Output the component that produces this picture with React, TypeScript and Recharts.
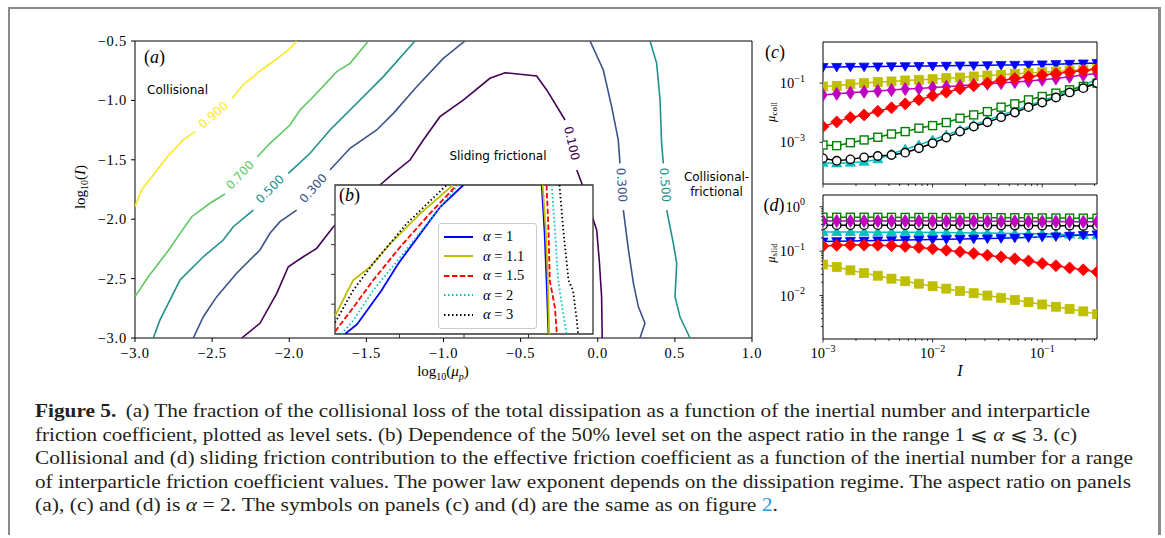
import React from 'react';
import {
  ScatterChart, Scatter, LineChart, Line, XAxis, YAxis,
  ReferenceArea, CartesianGrid, Legend,
} from 'recharts';

// ---- panel (a): level sets of the collisional fraction, [log10(mu_p), log10(I)]
const LEVEL_090_LOW = [[-3.0, -1.894], [-2.957, -1.754], [-2.79, -1.474], [-2.687, -1.333], [-2.611, -1.263]];
const LEVEL_090_HIGH = [[-2.369, -0.982], [-2.3, -0.87], [-2.18, -0.744], [-2.006, -0.576], [-1.952, -0.5]];
const LEVEL_070_LOW = [[-3.0, -2.652], [-2.914, -2.484], [-2.773, -2.245], [-2.708, -2.119], [-2.632, -1.979], [-2.514, -1.866], [-2.417, -1.788]];
const LEVEL_070_HIGH = [[-2.207, -1.474], [-2.125, -1.361], [-1.995, -1.207], [-1.93, -1.081], [-1.844, -0.969], [-1.692, -0.758], [-1.606, -0.688], [-1.552, -0.604], [-1.487, -0.5]];
const LEVEL_050_LOW = [[-2.881, -3.0], [-2.838, -2.848], [-2.708, -2.512], [-2.557, -2.316], [-2.428, -2.175], [-2.363, -2.063], [-2.233, -1.923]];
const LEVEL_050_HIGH = [[-2.006, -1.614], [-1.865, -1.445], [-1.736, -1.249], [-1.541, -0.997], [-1.39, -0.8], [-1.185, -0.5]];
const LEVEL_030_LOW = [[-2.622, -3.0], [-2.557, -2.821], [-2.47, -2.652], [-2.341, -2.455], [-2.19, -2.259], [-2.125, -2.119], [-2.06, -2.021], [-1.952, -1.923]];
const LEVEL_030_HIGH = [[-1.736, -1.586], [-1.606, -1.403], [-1.433, -1.249], [-1.325, -1.109], [-1.174, -0.885], [-1.001, -0.646], [-0.861, -0.5]];
const LEVEL_010_ARCH = [[-2.308, -3.0], [-2.19, -2.876], [-2.081, -2.624], [-2.006, -2.4], [-1.909, -2.316], [-1.822, -2.245], [-1.714, -2.063], [-1.55, -1.88], [-1.412, -1.712], [-1.325, -1.614], [-1.217, -1.502], [-1.131, -1.333], [-1.023, -1.137], [-0.872, -0.997], [-0.699, -0.814], [-0.601, -0.767], [-0.396, -0.795], [-0.331, -0.912], [-0.212, -1.165]];
const LEVEL_010_FALL = [[-0.136, -1.586], [-0.08, -1.78], [-0.03, -2.0], [-0.007, -2.09], [0.01, -2.35], [0.025, -2.652], [0.029, -3.0]];
const LEVEL_030R_TOP = [[-0.05, -0.5], [0.036, -0.744], [0.09, -1.053], [0.133, -1.333], [0.144, -1.53]];
const LEVEL_030R_BOT = [[0.166, -1.923], [0.199, -2.259], [0.231, -2.539], [0.263, -2.736], [0.306, -2.876], [0.274, -3.0]];
const LEVEL_050R_TOP = [[0.339, -0.5], [0.382, -0.688], [0.404, -0.997], [0.414, -1.361], [0.425, -1.53]];
const LEVEL_050R_BOT = [[0.447, -1.923], [0.49, -2.203], [0.512, -2.371], [0.501, -2.652], [0.533, -2.821], [0.598, -3.0]];

// viridis colours of the five levels
const LEVEL_COLOR: { [k: string]: string } = {
  '0.1': '#440154', '0.3': '#3b528b', '0.5': '#21918c', '0.7': '#5ec962', '0.9': '#fde725',
};

const CONTOURS = [
  { level: '0.9', points: LEVEL_090_LOW }, { level: '0.9', points: LEVEL_090_HIGH },
  { level: '0.7', points: LEVEL_070_LOW }, { level: '0.7', points: LEVEL_070_HIGH },
  { level: '0.5', points: LEVEL_050_LOW }, { level: '0.5', points: LEVEL_050_HIGH },
  { level: '0.3', points: LEVEL_030_LOW }, { level: '0.3', points: LEVEL_030_HIGH },
  { level: '0.1', points: LEVEL_010_ARCH }, { level: '0.1', points: LEVEL_010_FALL },
  { level: '0.3', points: LEVEL_030R_TOP }, { level: '0.3', points: LEVEL_030R_BOT },
  { level: '0.5', points: LEVEL_050R_TOP }, { level: '0.5', points: LEVEL_050R_BOT },
];

// inline contour labels
const LEVEL_LABELS = [
  { x: -2.492, y: -1.123, text: '0.900', angle: -41, level: '0.9' },
  { x: -2.319, y: -1.628, text: '0.700', angle: -47, level: '0.7' },
  { x: -2.125, y: -1.748, text: '0.500', angle: -45, level: '0.5' },
  { x: -1.844, y: -1.74, text: '0.300', angle: -48, level: '0.3' },
  { x: -0.169, y: -1.361, text: '0.100', angle: 77, level: '0.1' },
  { x: 0.155, y: -1.712, text: '0.300', angle: 86, level: '0.3' },
  { x: 0.436, y: -1.712, text: '0.500', angle: 86, level: '0.5' },
];

const REGION_LABELS = [
  { x: -2.922, y: -0.912, text: 'Collisional', anchor: 'start' },
  { x: -0.647, y: -1.468, text: 'Sliding frictional', anchor: 'middle' },
  { x: 0.77, y: -1.645, text: 'Collisional-', anchor: 'middle' },
  { x: 0.77, y: -1.771, text: 'frictional', anchor: 'middle' },
];

const A_X_TICKS = [-3, -2.5, -2, -1.5, -1, -0.5, 0, 0.5, 1];
const A_Y_TICKS = [-3, -2.5, -2, -1.5, -1, -0.5];

// ---- panel (b): 50% level set for several aspect ratios
const ALPHA_1_LEFT = [[-2.845, -3.0], [-2.66, -2.84], [-2.28, -2.27], [-2.02, -1.82], [-1.68, -1.32], [-1.37, -0.87], [-1.01, -0.5]];
const ALPHA_1_RIGHT = [[0.205, -0.5], [0.25, -1.3], [0.28, -2.1], [0.31, -3.0]];
const ALPHA_11_LEFT = [[-3.0, -2.7], [-2.72, -2.1], [-2.46, -1.88], [-2.15, -1.49], [-1.68, -0.98], [-1.17, -0.5]];
const ALPHA_11_RIGHT = [[0.22, -0.5], [0.27, -1.3], [0.3, -2.1], [0.32, -3.0]];
const ALPHA_15_LEFT = [[-3.0, -2.96], [-2.72, -2.56], [-2.41, -2.1], [-1.99, -1.54], [-1.53, -0.98], [-1.11, -0.5]];
const ALPHA_15_RIGHT = [[0.28, -0.5], [0.31, -1.26], [0.33, -2.1], [0.41, -2.56], [0.44, -3.0]];
const ALPHA_2_LEFT = [[-2.9, -3.0], [-2.72, -2.78], [-2.41, -2.27], [-1.94, -1.65], [-1.53, -1.09], [-1.09, -0.5]];
const ALPHA_2_RIGHT = [[0.36, -0.5], [0.41, -1.26], [0.46, -2.1], [0.54, -2.67], [0.59, -3.0]];
const ALPHA_3_LEFT = [[-3.0, -2.81], [-2.72, -2.27], [-2.41, -1.82], [-1.89, -1.15], [-1.27, -0.5]];
const ALPHA_3_RIGHT = [[0.48, -0.5], [0.54, -1.26], [0.62, -2.1], [0.69, -2.27], [0.75, -2.78], [0.77, -3.0]];

const ALPHA_CURVES = [
  { name: '1', color: '#0000ff', dash: undefined, left: ALPHA_1_LEFT, right: ALPHA_1_RIGHT },
  { name: '1.1', color: '#bfbf00', dash: undefined, left: ALPHA_11_LEFT, right: ALPHA_11_RIGHT },
  { name: '1.5', color: '#ff0000', dash: '5.5 2.4', left: ALPHA_15_LEFT, right: ALPHA_15_RIGHT },
  { name: '2', color: '#00bfbf', dash: '1.5 2.5', left: ALPHA_2_LEFT, right: ALPHA_2_RIGHT },
  { name: '3', color: '#000000', dash: '1.5 2.5', left: ALPHA_3_LEFT, right: ALPHA_3_RIGHT },
];

// ---- panels (c), (d): friction contributions vs inertial number
const I_VALUES = [0.001, 0.001334, 0.001778, 0.002371, 0.003162, 0.004217, 0.005623, 0.007499, 0.01, 0.01334, 0.01778, 0.02371, 0.03162, 0.04217, 0.05623, 0.07499, 0.1, 0.1334, 0.1778, 0.2371, 0.3162];

const COLL_BLUE = [0.348, 0.352, 0.356, 0.36, 0.364, 0.368, 0.372, 0.376, 0.38, 0.385, 0.39, 0.395, 0.4, 0.406, 0.412, 0.42, 0.428, 0.438, 0.448, 0.46, 0.474];
const COLL_OLIVE = [0.077, 0.081, 0.092, 0.1, 0.108, 0.114, 0.123, 0.129, 0.136, 0.147, 0.155, 0.168, 0.181, 0.191, 0.207, 0.218, 0.235, 0.248, 0.268, 0.282, 0.298];
const COLL_MAGENTA = [0.04, 0.0435, 0.047, 0.051, 0.054, 0.058, 0.063, 0.066, 0.071, 0.075, 0.081, 0.088, 0.095, 0.1, 0.108, 0.117, 0.13, 0.144, 0.164, 0.187, 0.213];
const COLL_RED = [0.0034, 0.0049, 0.0069, 0.0084, 0.0112, 0.0146, 0.0199, 0.0272, 0.0372, 0.0495, 0.0643, 0.0812, 0.1, 0.123, 0.144, 0.164, 0.187, 0.207, 0.236, 0.269, 0.298];
const COLL_GREEN = [0.00081, 0.00077, 0.00097, 0.0012, 0.00148, 0.00191, 0.0023, 0.003, 0.00367, 0.00464, 0.00651, 0.00844, 0.0109, 0.0154, 0.0199, 0.0272, 0.0353, 0.0458, 0.0594, 0.0771, 0.1];
const COLL_CYAN = [0.000205, 0.000194, 0.000205, 0.000221, 0.000265, 0.000403, 0.00058, 0.00081, 0.0012, 0.00177, 0.00262, 0.00387, 0.00572, 0.00822, 0.0118, 0.0171, 0.0252, 0.037, 0.055, 0.085, 0.135];
const COLL_BLACK = [0.000287, 0.000239, 0.000265, 0.00031, 0.000344, 0.000372, 0.000447, 0.000627, 0.000925, 0.00144, 0.0023, 0.0034, 0.00476, 0.00704, 0.0101, 0.0154, 0.0221, 0.0327, 0.0483, 0.0677, 0.1];

const SLID_GREEN = [0.58, 0.58, 0.58, 0.58, 0.578, 0.578, 0.576, 0.575, 0.574, 0.572, 0.57, 0.57, 0.568, 0.566, 0.565, 0.563, 0.56, 0.558, 0.556, 0.553, 0.55];
const SLID_MAGENTA = [0.48, 0.48, 0.48, 0.48, 0.48, 0.479, 0.479, 0.478, 0.478, 0.477, 0.476, 0.475, 0.474, 0.472, 0.47, 0.468, 0.466, 0.464, 0.462, 0.46, 0.458];
const SLID_BLACK = [0.385, 0.385, 0.385, 0.385, 0.385, 0.385, 0.384, 0.384, 0.383, 0.383, 0.382, 0.381, 0.38, 0.379, 0.378, 0.377, 0.375, 0.373, 0.371, 0.369, 0.366];
const SLID_CYAN = [0.27, 0.27, 0.27, 0.27, 0.268, 0.268, 0.266, 0.265, 0.263, 0.262, 0.26, 0.258, 0.256, 0.253, 0.25, 0.247, 0.244, 0.24, 0.236, 0.232, 0.228];
const SLID_BLUE = [0.165, 0.168, 0.17, 0.172, 0.174, 0.176, 0.178, 0.18, 0.182, 0.185, 0.188, 0.19, 0.193, 0.196, 0.2, 0.204, 0.21, 0.215, 0.222, 0.23, 0.238];
const SLID_RED = [0.13, 0.135, 0.137, 0.137, 0.136, 0.133, 0.128, 0.121, 0.113, 0.105, 0.097, 0.089, 0.081, 0.074, 0.067, 0.06, 0.053, 0.047, 0.042, 0.038, 0.034];
const SLID_OLIVE = [0.05, 0.044, 0.037, 0.032, 0.028, 0.024, 0.021, 0.0185, 0.0162, 0.0143, 0.0127, 0.0113, 0.01, 0.0089, 0.008, 0.0071, 0.0063, 0.0056, 0.005, 0.0044, 0.0038];

// drawing order: later entries sit on top
const SERIES = [
  { key: 'cyan', color: '#00bfbf', marker: 'triUp', coll: COLL_CYAN, slid: SLID_CYAN },
  { key: 'green', color: '#008000', marker: 'openSquare', coll: COLL_GREEN, slid: SLID_GREEN },
  { key: 'black', color: '#000000', marker: 'openCircle', coll: COLL_BLACK, slid: SLID_BLACK },
  { key: 'blue', color: '#0000ff', marker: 'triDown', coll: COLL_BLUE, slid: SLID_BLUE },
  { key: 'olive', color: '#bfbf00', marker: 'square', coll: COLL_OLIVE, slid: SLID_OLIVE },
  { key: 'magenta', color: '#bf00bf', marker: 'thinDiamond', coll: COLL_MAGENTA, slid: SLID_MAGENTA },
  { key: 'red', color: '#ff0000', marker: 'diamond', coll: COLL_RED, slid: SLID_RED },
];

const I_TICKS = [0.001, 0.002, 0.003, 0.004, 0.005, 0.006, 0.007, 0.008, 0.009, 0.01, 0.02, 0.03, 0.04, 0.05, 0.06, 0.07, 0.08, 0.09, 0.1, 0.2, 0.3];
const COLL_TICKS = [0.001, 0.1];
const SLID_TICKS = [0.002, 0.003, 0.004, 0.005, 0.006, 0.007, 0.008, 0.009, 0.01, 0.02, 0.03, 0.04, 0.05, 0.06, 0.07, 0.08, 0.09, 0.1, 0.2, 0.3, 0.4, 0.5, 0.6, 0.7, 0.8, 0.9, 1];

const I_DOMAIN = [0.001, 0.3162];
const COLL_DOMAIN = [3.9e-5, 2.45];
const SLID_DOMAIN = [1.05e-3, 1.84];

const COLL_ROWS = I_VALUES.map((I, i) => {
  const row: any = { I };
  SERIES.forEach((s) => { row[s.key] = s.coll[i]; });
  return row;
});
const SLID_ROWS = I_VALUES.map((I, i) => {
  const row: any = { I };
  SERIES.forEach((s) => { row[s.key] = s.slid[i]; });
  return row;
});

const SERIF = "'Liberation Serif', 'DejaVu Serif', serif";
const SANS = "'DejaVu Sans', sans-serif";

const pts = (arr: number[][]) => arr.map(([x, y]) => ({ x, y }));
const noShape = () => <g />;
const fmtLin = (v: number) => v.toFixed(1).replace('-', '\u2212');
const isDecade = (v: number) => Math.abs(Math.log10(v) - Math.round(Math.log10(v))) < 1e-6;
const decadeExp = (v: number) => {
  const e = Math.round(Math.log10(v));
  return e < 0 ? `\u2212${-e}` : `${e}`;
};

// tick renderers (tickSize 0 so x/y sit on the axis line)
const mainXTick = (p: any) => (
  <g>
    <line x1={p.x} x2={p.x} y1={p.y} y2={p.y + 4} stroke="#000" />
    <text x={p.x} y={p.y + 20} textAnchor="middle" fontFamily={SERIF} fontSize={14.5} letterSpacing={0.8} fill="#000">
      {fmtLin(p.payload.value)}
    </text>
  </g>
);
const mainYTick = (p: any) => (
  <g>
    <line x1={p.x - 4} x2={p.x} y1={p.y} y2={p.y} stroke="#000" />
    <text x={p.x - 8} y={p.y + 5} textAnchor="end" fontFamily={SERIF} fontSize={14.5} letterSpacing={0.8} fill="#000">
      {fmtLin(p.payload.value)}
    </text>
  </g>
);
const insetXTick = (p: any) => <line x1={p.x} x2={p.x} y1={p.y} y2={p.y + 4} stroke="#333" />;
const insetYTick = (p: any) => <line x1={p.x - 4} x2={p.x} y1={p.y} y2={p.y} stroke="#333" />;

const logXTick = (showLabel: boolean) => (p: any) => {
  const major = isDecade(p.payload.value);
  return (
    <g>
      <line x1={p.x} x2={p.x} y1={p.y} y2={p.y + (major ? 3.5 : 2)} stroke="#000" strokeWidth={0.8} />
      {major && showLabel && (
        <text x={p.x} y={p.y + 19} textAnchor="middle" fontFamily={SERIF} fontSize={14.5} fill="#000">
          10<tspan dy={-6.5} fontSize={10}>{decadeExp(p.payload.value)}</tspan>
        </text>
      )}
    </g>
  );
};
const logYTick = (p: any) => {
  const major = isDecade(p.payload.value);
  return (
    <g>
      <line x1={p.x - (major ? 3.5 : 2)} x2={p.x} y1={p.y} y2={p.y} stroke="#000" strokeWidth={0.8} />
      {major && (
        <text x={p.x - 18} y={p.y + 5} textAnchor="end" fontFamily={SERIF} fontSize={14.5} fill="#000">
          10<tspan dy={-6.5} fontSize={10}>{decadeExp(p.payload.value)}</tspan>
        </text>
      )}
    </g>
  );
};

const renderLevelLabel = (p: any) => {
  const d = p.payload;
  return (
    <text x={p.cx} y={p.cy} transform={`rotate(${d.angle} ${p.cx} ${p.cy})`} textAnchor="middle"
      dominantBaseline="central" fontFamily={SANS} fontSize={12} fill={LEVEL_COLOR[d.level]}>
      {d.text}
    </text>
  );
};
const renderRegionLabel = (p: any) => (
  <text x={p.cx} y={p.cy} textAnchor={p.payload.anchor} dominantBaseline="central" fontFamily={SANS} fontSize={12} fill="#000">
    {p.payload.text}
  </text>
);
const renderPanelLetter = (p: any) => (
  <text x={p.cx} y={p.cy} textAnchor="middle" dominantBaseline="central" fontFamily={SERIF} fontSize={18} fill="#000">
    (<tspan fontStyle="italic">{p.payload.text}</tspan>)
  </text>
);

const renderMarker = (kind: string, color: string) => (p: any) => {
  const { cx, cy, index } = p;
  if (cx == null || cy == null) return <g key={index} />;
  switch (kind) {
    case 'triDown':
      return <polygon key={index} points={`${cx - 5},${cy - 3.5} ${cx + 5},${cy - 3.5} ${cx},${cy + 5}`} fill={color} stroke={color} strokeWidth={0.8} />;
    case 'triUp':
      return <polygon key={index} points={`${cx - 5},${cy + 3.5} ${cx + 5},${cy + 3.5} ${cx},${cy - 5}`} fill={color} stroke={color} strokeWidth={0.8} />;
    case 'square':
      return <rect key={index} x={cx - 4.5} y={cy - 4.5} width={9} height={9} fill={color} stroke={color} strokeWidth={0.8} />;
    case 'openSquare':
      return <rect key={index} x={cx - 4} y={cy - 4} width={8} height={8} fill="#fff" stroke={color} strokeWidth={1.4} />;
    case 'diamond':
      return <polygon key={index} points={`${cx},${cy - 6} ${cx + 6},${cy} ${cx},${cy + 6} ${cx - 6},${cy}`} fill={color} stroke={color} strokeWidth={0.8} />;
    case 'thinDiamond':
      return <polygon key={index} points={`${cx},${cy - 6.5} ${cx + 4.2},${cy} ${cx},${cy + 6.5} ${cx - 4.2},${cy}`} fill={color} stroke={color} strokeWidth={0.8} />;
    default:
      return <circle key={index} cx={cx} cy={cy} r={4.2} fill="#fff" stroke={color} strokeWidth={1.4} />;
  }
};

const renderInsetLegend = () => (
  <div style={{ background: 'rgba(255,255,255,0.85)', border: '1px solid #cccccc', borderRadius: 3, padding: '3px 5px', boxSizing: 'border-box', width: 99 }}>
    {ALPHA_CURVES.map((c) => (
      <div key={c.name} style={{ display: 'flex', alignItems: 'center', height: 19.5 }}>
        <svg width={29} height={8}>
          <line x1={0} x2={29} y1={4} y2={4} stroke={c.color} strokeWidth={2} strokeDasharray={c.dash} />
        </svg>
        <span style={{ marginLeft: 10, fontFamily: SERIF, fontSize: 14.5, color: '#000', whiteSpace: 'nowrap' }}>
          <i>α</i> = {c.name}
        </span>
      </div>
    ))}
  </div>
);

function FrictionChart({ rows, domain, yTicks, top, height, marginTop, xHeight, showX }: any) {
  return (
    <div style={{ position: 'absolute', left: 745, top }}>
      <LineChart width={370} height={height} data={rows} margin={{ top: marginTop, right: 18, bottom: 0, left: 0 }}>
        <XAxis type="number" dataKey="I" scale="log" domain={I_DOMAIN} allowDataOverflow ticks={I_TICKS} interval={0}
          height={xHeight} tickSize={0} tickMargin={0} tickLine={false} axisLine={false} tick={logXTick(showX)} />
        <YAxis type="number" scale="log" domain={domain} allowDataOverflow ticks={yTicks} interval={0} width={78}
          tickSize={0} tickMargin={0} tickLine={false} axisLine={false} tick={logYTick} />
        {SERIES.map((s) => (
          <Line key={s.key} dataKey={s.key} type="linear" stroke={s.color} strokeWidth={1.5}
            dot={renderMarker(s.marker, s.color)} activeDot={false} isAnimationActive={false} />
        ))}
        <ReferenceArea x1={I_DOMAIN[0]} x2={I_DOMAIN[1]} y1={domain[0]} y2={domain[1]} fill="none" stroke="#000" strokeWidth={1} />
      </LineChart>
    </div>
  );
}

const CAPTION_COLOR = '#231f20';

export default function App() {
  return (
    <div style={{ position: 'absolute', left: 0, top: 0, width: 1165, height: 538, background: '#fff' }}>
      <div style={{ position: 'absolute', left: 8, top: 7, width: 1148, height: 526, borderLeft: '2px solid #8a8a8a', borderTop: '2px solid #8a8a8a', borderRight: '3px solid #8a8a8a' }} />

      {/* titles and caption */}
      <svg width={1165} height={538} style={{ position: 'absolute', left: 0, top: 0 }}>
        <text x={443} y={376} textAnchor="middle" fontFamily={SERIF} fontSize={15} fill="#000">
          log<tspan fontSize={10} dy={4}>10</tspan><tspan dy={-4}>(</tspan><tspan fontStyle="italic">μ</tspan>
          <tspan fontSize={10} dy={4} fontStyle="italic">p</tspan><tspan dy={-4}>)</tspan>
        </text>
        <text x={80} y={187} transform="rotate(-90 80 187)" textAnchor="middle" dominantBaseline="central" fontFamily={SERIF} fontSize={15} fill="#000">
          log<tspan fontSize={10} dy={4}>10</tspan><tspan dy={-4}>(</tspan><tspan fontStyle="italic">I</tspan>)
        </text>
        <text x={771} y={112} transform="rotate(-90 771 112)" textAnchor="middle" dominantBaseline="central" fontFamily={SERIF} fontSize={12.5} fill="#000">
          <tspan fontStyle="italic">μ</tspan><tspan fontSize={9} dy={3}>coll</tspan>
        </text>
        <text x={771} y={253} transform="rotate(-90 771 253)" textAnchor="middle" dominantBaseline="central" fontFamily={SERIF} fontSize={12.5} fill="#000">
          <tspan fontStyle="italic">μ</tspan><tspan fontSize={9} dy={3}>slid</tspan>
        </text>
        <text x={960} y={376} textAnchor="middle" fontFamily={SERIF} fontSize={16} fontStyle="italic" fill="#000">I</text>
        <text x={775} y={58} textAnchor="middle" fontFamily={SERIF} fontSize={18} fill="#000">(<tspan fontStyle="italic">c</tspan>)</text>
        <text x={774} y={211} textAnchor="middle" fontFamily={SERIF} fontSize={18} fill="#000">(<tspan fontStyle="italic">d</tspan>)</text>

        <g fontFamily={SERIF} fontSize={18} fill={CAPTION_COLOR}>
          <text x={35} y={417} textLength={1055} lengthAdjust="spacingAndGlyphs">
            <tspan fontWeight="bold">Figure 5.</tspan>
            <tspan dx={8}>(a) The fraction of the collisional loss of the total dissipation as a function of the inertial number and interparticle</tspan>
          </text>
          <text x={35} y={440.5} textLength={1042} lengthAdjust="spacingAndGlyphs">
            friction coefficient, plotted as level sets. (b) Dependence of the 50% level set on the aspect ratio in the range 1 ⩽ <tspan fontStyle="italic">α</tspan> ⩽ 3. (c)
          </text>
          <text x={35} y={464} textLength={1098} lengthAdjust="spacingAndGlyphs">
            Collisional and (d) sliding friction contribution to the effective friction coefficient as a function of the inertial number for a range
          </text>
          <text x={35} y={487.5} textLength={1096} lengthAdjust="spacingAndGlyphs">
            of interparticle friction coefficient values. The power law exponent depends on the dissipation regime. The aspect ratio on panels
          </text>
          <text x={35} y={511} textLength={743} lengthAdjust="spacingAndGlyphs">
            (a), (c) and (d) is <tspan fontStyle="italic">α</tspan> = 2. The symbols on panels (c) and (d) are the same as on figure <tspan fill="#1e9be9">2</tspan>.
          </text>
        </g>
      </svg>

      {/* panel (a) */}
      <div style={{ position: 'absolute', left: 55, top: 30 }}>
        <ScatterChart width={725} height={345} margin={{ top: 11, right: 28, bottom: 0, left: 0 }}>
          <XAxis type="number" dataKey="x" domain={[-3, 1]} allowDataOverflow ticks={A_X_TICKS} interval={0} height={37}
            tickSize={0} tickMargin={0} tickLine={false} axisLine={false} tick={mainXTick} />
          <YAxis type="number" dataKey="y" domain={[-3, -0.5]} allowDataOverflow ticks={A_Y_TICKS} interval={0} width={80}
            tickSize={0} tickMargin={0} tickLine={false} axisLine={false} tick={mainYTick} />
          {CONTOURS.map((c, i) => (
            <Scatter key={`lvl-${i}`} data={pts(c.points)} fill={LEVEL_COLOR[c.level]}
              line={{ stroke: LEVEL_COLOR[c.level], strokeWidth: 1.6 }} shape={noShape}
              legendType="none" isAnimationActive={false} />
          ))}
          <Scatter data={LEVEL_LABELS} shape={renderLevelLabel} legendType="none" isAnimationActive={false} />
          <Scatter data={REGION_LABELS} shape={renderRegionLabel} legendType="none" isAnimationActive={false} />
          <Scatter data={[{ x: -2.874, y: -0.635, text: 'a' }]} shape={renderPanelLetter} legendType="none" isAnimationActive={false} />
          <ReferenceArea x1={-3} x2={1} y1={-3} y2={-0.5} fill="none" stroke="#000" strokeWidth={1} />
        </ScatterChart>
      </div>

      {/* panel (b), inset */}
      <div style={{ position: 'absolute', left: 300, top: 175 }}>
        <ScatterChart width={300} height={170} margin={{ top: 10, right: 7, bottom: 0, left: 0 }}>
          <CartesianGrid fill="#fff" stroke="none" horizontal={false} vertical={false} />
          <XAxis type="number" dataKey="x" domain={[-3, 1]} allowDataOverflow ticks={[-2, -1, 0]} interval={0} height={11}
            tickSize={0} tickMargin={0} tickLine={false} axisLine={false} tick={insetXTick} />
          <YAxis type="number" dataKey="y" domain={[-3, -0.5]} allowDataOverflow ticks={[-2.5, -2, -1.5, -1]} interval={0} width={35}
            tickSize={0} tickMargin={0} tickLine={false} axisLine={false} tick={insetYTick} />
          {ALPHA_CURVES.map((c) => (
            <Scatter key={`l-${c.name}`} name={`α = ${c.name}`} data={pts(c.left)} fill={c.color}
              line={{ stroke: c.color, strokeWidth: 1.8, strokeDasharray: c.dash }} shape={noShape}
              legendType="none" isAnimationActive={false} />
          ))}
          {ALPHA_CURVES.map((c) => (
            <Scatter key={`r-${c.name}`} data={pts(c.right)} fill={c.color}
              line={{ stroke: c.color, strokeWidth: 1.8, strokeDasharray: c.dash }} shape={noShape}
              legendType="none" isAnimationActive={false} />
          ))}
          <Scatter data={[{ x: -2.775, y: -0.669, text: 'b' }]} shape={renderPanelLetter} legendType="none" isAnimationActive={false} />
          <ReferenceArea x1={-3} x2={1} y1={-3} y2={-0.5} fill="none" stroke="#333" strokeWidth={1.3} />
          <Legend content={renderInsetLegend} layout="vertical" align="center" verticalAlign="middle"
            wrapperStyle={{ left: 138, top: 48, width: 99 }} />
        </ScatterChart>
      </div>

      {/* panels (c) and (d) */}
      <FrictionChart rows={COLL_ROWS} domain={COLL_DOMAIN} yTicks={COLL_TICKS} top={30} height={160} marginTop={12} xHeight={6} showX={false} />
      <FrictionChart rows={SLID_ROWS} domain={SLID_DOMAIN} yTicks={SLID_TICKS} top={185} height={200} marginTop={10} xHeight={46} showX />
    </div>
  );
}
